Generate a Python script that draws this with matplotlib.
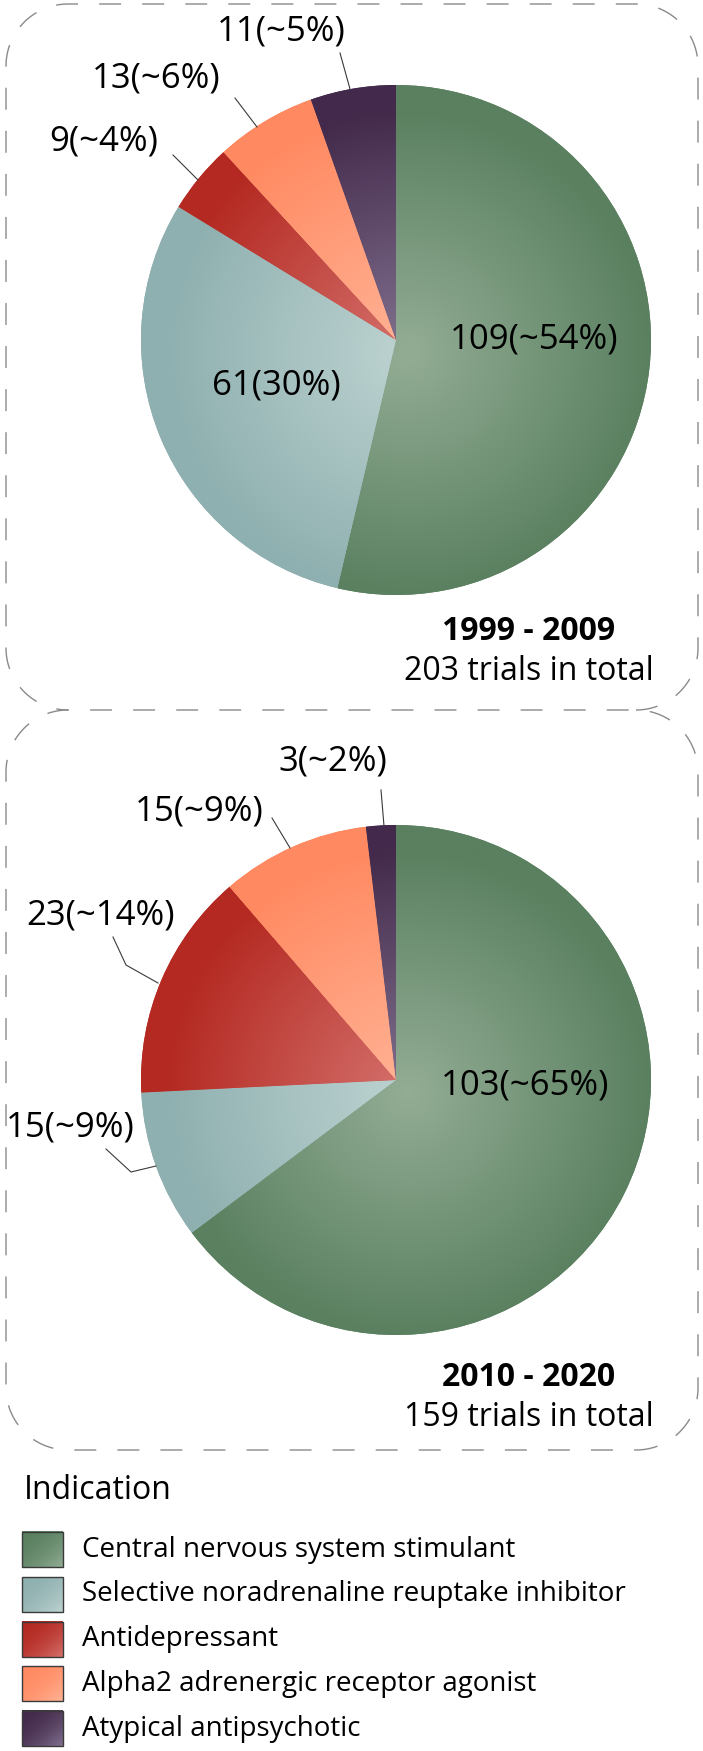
import numpy as np
import matplotlib
matplotlib.use('Agg')
from matplotlib import pyplot as plt
from matplotlib.colors import to_rgb
from matplotlib.patches import Rectangle

W, H = 703, 1751

categories = ['Central nervous system stimulant',
              'Selective noradrenaline reuptake inhibitor',
              'Antidepressant',
              'Alpha2 adrenergic receptor agonist',
              'Atypical antipsychotic']
trials_1999 = [109, 61, 9, 13, 11]
trials_2010 = [103, 15, 23, 15, 3]
labels_1999 = ['109(~54%)', '61(30%)', '9(~4%)', '13(~6%)', '11(~5%)']
labels_2010 = ['103(~65%)', '15(~9%)', '23(~14%)', '15(~9%)', '3(~2%)']
periods = ['1999 - 2009', '2010 - 2020']
totals = ['203 trials in total', '159 trials in total']

# outer (dark) and inner (light) colour of each slice
dark = ['#5a8060', '#8fb0b0', '#b42a22', '#ff8a62', '#432a4b']
light = ['#93ad95', '#bdd3d1', '#d5716d', '#ffb396', '#827190']

# label layout in pixels from the top left, same order as the slices
pos_1999 = [(534, 340), (276, 385), (104, 142), (156, 79), (281, 32)]
lead_1999 = [None, None,
             [(173, 155), (198, 180)],
             [(235, 98), (257, 127)],
             [(340, 53), (350, 89)]]
pos_2010 = [(525, 1086), (70, 1127), (100, 916), (199, 812), (333, 762)]
lead_2010 = [None,
             [(106, 1149), (131, 1172), (156, 1166)],
             [(113, 937), (126, 965), (158, 983)],
             [(272, 818), (290, 848)],
             [(381, 790), (384, 826)]]

plt.rcParams['font.family'] = ['Open Sans', 'DejaVu Sans']

fig = plt.figure(figsize=(W / 100, H / 100), dpi=100)
ax = fig.add_axes([0, 0, 1, 1])


def Y(y):
    # pixel rows run downwards, the axes run upwards
    return H - y


def draw_pie(values, labels, pos, leads, cx, cy, r):
    wedges, _ = ax.pie(values, colors=dark, startangle=90, counterclock=False,
                       radius=r, center=(cx, Y(cy)),
                       wedgeprops=dict(linewidth=0))
    # radial shading, lighter towards the centre
    g = np.linspace(-1, 1, 400)
    xx, yy = np.meshgrid(g, g)
    d = np.clip(np.hypot(xx - 0.05, yy + 0.05) / 0.95, 0, 1)[..., None]
    for w, c_in, c_out in zip(wedges, light, dark):
        c_in, c_out = np.array(to_rgb(c_in)), np.array(to_rgb(c_out))
        img = c_in + (c_out - c_in) * d
        im = ax.imshow(img, extent=(cx - r, cx + r, Y(cy) - r, Y(cy) + r),
                       origin='lower', interpolation='bilinear', zorder=2)
        im.set_clip_path(w)
    for lab, (x, y), lead in zip(labels, pos, leads):
        ax.text(x, Y(y), lab, fontsize=25, ha='center', va='center', zorder=5)
        if lead:
            ax.plot([p[0] for p in lead], [Y(p[1]) for p in lead],
                    color='#3a3a3a', lw=0.8, zorder=5)


def box_outline(x0, y0, x1, y1, rad, closed=True):
    centers = [(x1 - rad, y1 - rad), (x1 - rad, y0 + rad),
               (x0 + rad, y0 + rad), (x0 + rad, y1 - rad)]
    xs, ys = [], []
    for k, (cx, cy) in enumerate(centers):
        a = np.radians(np.linspace(90 - 90 * k, -90 * k, 30))
        xs += list(cx + rad * np.cos(a))
        ys += list(cy + rad * np.sin(a))
    if closed:
        xs.append(xs[0])
        ys.append(ys[0])
    return xs, [Y(v) for v in ys]


dash = dict(color='#8a8a8a', lw=1.0, ls=(0, (15.8, 15.2)))
bx, by = box_outline(6, 4, 698, 710, 62, closed=False)
ax.plot(bx, by, **dash)
bx, by = box_outline(6, 710, 698, 1450, 62)
ax.plot(bx, by, **dash)

draw_pie(trials_1999, labels_1999, pos_1999, lead_1999, 396, 340, 255)
draw_pie(trials_2010, labels_2010, pos_2010, lead_2010, 396, 1080, 255)

for period, total, y in zip(periods, totals, [632, 1377]):
    ax.text(529, Y(y), period, fontsize=23, fontweight='bold', ha='center', va='center')
    ax.text(529, Y(y + 40), total, fontsize=23, ha='center', va='center')

# legend
ax.text(24, Y(1490), 'Indication', fontsize=23, va='center')
u = np.linspace(0, 1, 60)
uu, vv = np.meshgrid(u, u)
t = (((uu + vv) / 2) ** 2)[..., None]
for i, (name, c_out, c_in) in enumerate(zip(categories, dark, light)):
    top = 1532 + i * 44.8
    c_in, c_out = np.array(to_rgb(c_in)), np.array(to_rgb(c_out))
    img = c_out + (c_in - c_out) * t
    ax.imshow(img, extent=(22, 63, Y(top + 35), Y(top)), origin='upper',
              interpolation='bilinear', zorder=2)
    ax.add_patch(Rectangle((22, Y(top + 35)), 41, 35, fill=False,
                           ec='#3a3a3a', lw=1, zorder=3))
    ax.text(82, Y(top + 17.5), name, fontsize=20, va='center')

ax.set_xlim(0, W)
ax.set_ylim(0, H)
ax.set_aspect('auto')
ax.axis('off')

fig.savefig('out.png', dpi=100)
